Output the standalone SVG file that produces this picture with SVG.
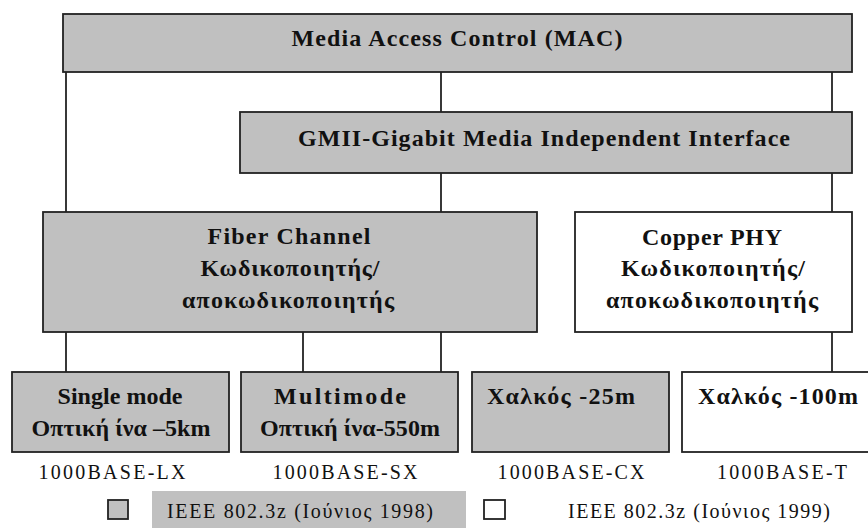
<svg xmlns="http://www.w3.org/2000/svg" width="868" height="528" viewBox="0 0 868 528">
<style>
.box{stroke:#222;stroke-width:1.8}
.g{fill:#c0c0c0}
.w{fill:#fff}
.conn line{stroke:#222;stroke-width:1.8}
.b{font-family:"Liberation Serif",serif;font-weight:bold;font-size:24px;fill:#111}
.r{font-family:"Liberation Serif",serif;font-size:20px;fill:#111}
.m{text-anchor:middle}
</style>
<rect width="868" height="528" fill="#fff"/>
<g id="connectors" class="conn">
<line x1="66" y1="72" x2="66" y2="212"/>
<line x1="441" y1="72" x2="441" y2="112"/>
<line x1="832" y1="72" x2="832" y2="112"/>
<line x1="441" y1="173" x2="441" y2="212"/>
<line x1="832" y1="173" x2="832" y2="212"/>
<line x1="66" y1="332" x2="66" y2="372"/>
<line x1="303" y1="332" x2="303" y2="372"/>
<line x1="441" y1="332" x2="441" y2="372"/>
<line x1="832" y1="332" x2="832" y2="372"/>
</g>
<g id="mac">
<rect class="box g" x="63" y="14" width="789" height="58"/>
<text class="b m" x="457" y="46" textLength="331">Media Access Control (MAC)</text>
</g>
<g id="gmii">
<rect class="box g" x="240" y="112" width="612" height="61"/>
<text class="b m" x="544" y="146" textLength="492">GMII-Gigabit Media Independent Interface</text>
</g>
<g id="fiber">
<rect class="box g" x="43" y="212" width="494" height="120"/>
<text class="b m" x="289" y="244" textLength="163">Fiber Channel</text>
<text class="b m" x="290" y="276" textLength="179">Κωδικοποιητής/</text>
<text class="b m" x="288" y="308" textLength="212">αποκωδικοποιητής</text>
</g>
<g id="copper">
<rect class="box w" x="575" y="212" width="277" height="120"/>
<text class="b m" x="712" y="245" textLength="140">Copper PHY</text>
<text class="b m" x="713" y="276" textLength="184">Κωδικοποιητής/</text>
<text class="b m" x="712" y="308" textLength="212">αποκωδικοποιητής</text>
</g>
<g id="singlemode">
<rect class="box g" x="12" y="372" width="217" height="80"/>
<text class="b m" x="120" y="404" textLength="125">Single mode</text>
<text class="b m" x="121" y="436" textLength="179">Οπτική ίνα –5km</text>
</g>
<g id="multimode">
<rect class="box g" x="241" y="372" width="217" height="80"/>
<text class="b m" x="340" y="404" textLength="132">Multimode</text>
<text class="b m" x="350" y="436" textLength="180">Οπτική ίνα-550m</text>
</g>
<g id="copper25">
<rect class="box g" x="472" y="372" width="197" height="80"/>
<text class="b" x="487" y="404" textLength="148">Χαλκός -25m</text>
</g>
<g id="copper100">
<rect class="box w" x="682" y="372" width="190" height="80"/>
<text class="b" x="698" y="404" textLength="160">Χαλκός -100m</text>
</g>
<g id="labels">
<text class="r m" x="112" y="479" textLength="147">1000BASE-LX</text>
<text class="r m" x="345" y="479" textLength="145">1000BASE-SX</text>
<text class="r m" x="571" y="479" textLength="147">1000BASE-CX</text>
<text class="r m" x="782" y="479" textLength="130">1000BASE-T</text>
</g>
<g id="legend">
<rect class="box g" x="108" y="500" width="20" height="19" stroke-width="1.5"/>
<rect x="152" y="491" width="314" height="40" fill="#c0c0c0"/>
<text class="r" x="167" y="518" textLength="266">IEEE 802.3z (Ιούνιος 1998)</text>
<rect class="box w" x="484" y="500" width="21" height="19" stroke-width="1.5"/>
<text class="r" x="568" y="518" textLength="262">IEEE 802.3z (Ιούνιος 1999)</text>
</g>
</svg>
